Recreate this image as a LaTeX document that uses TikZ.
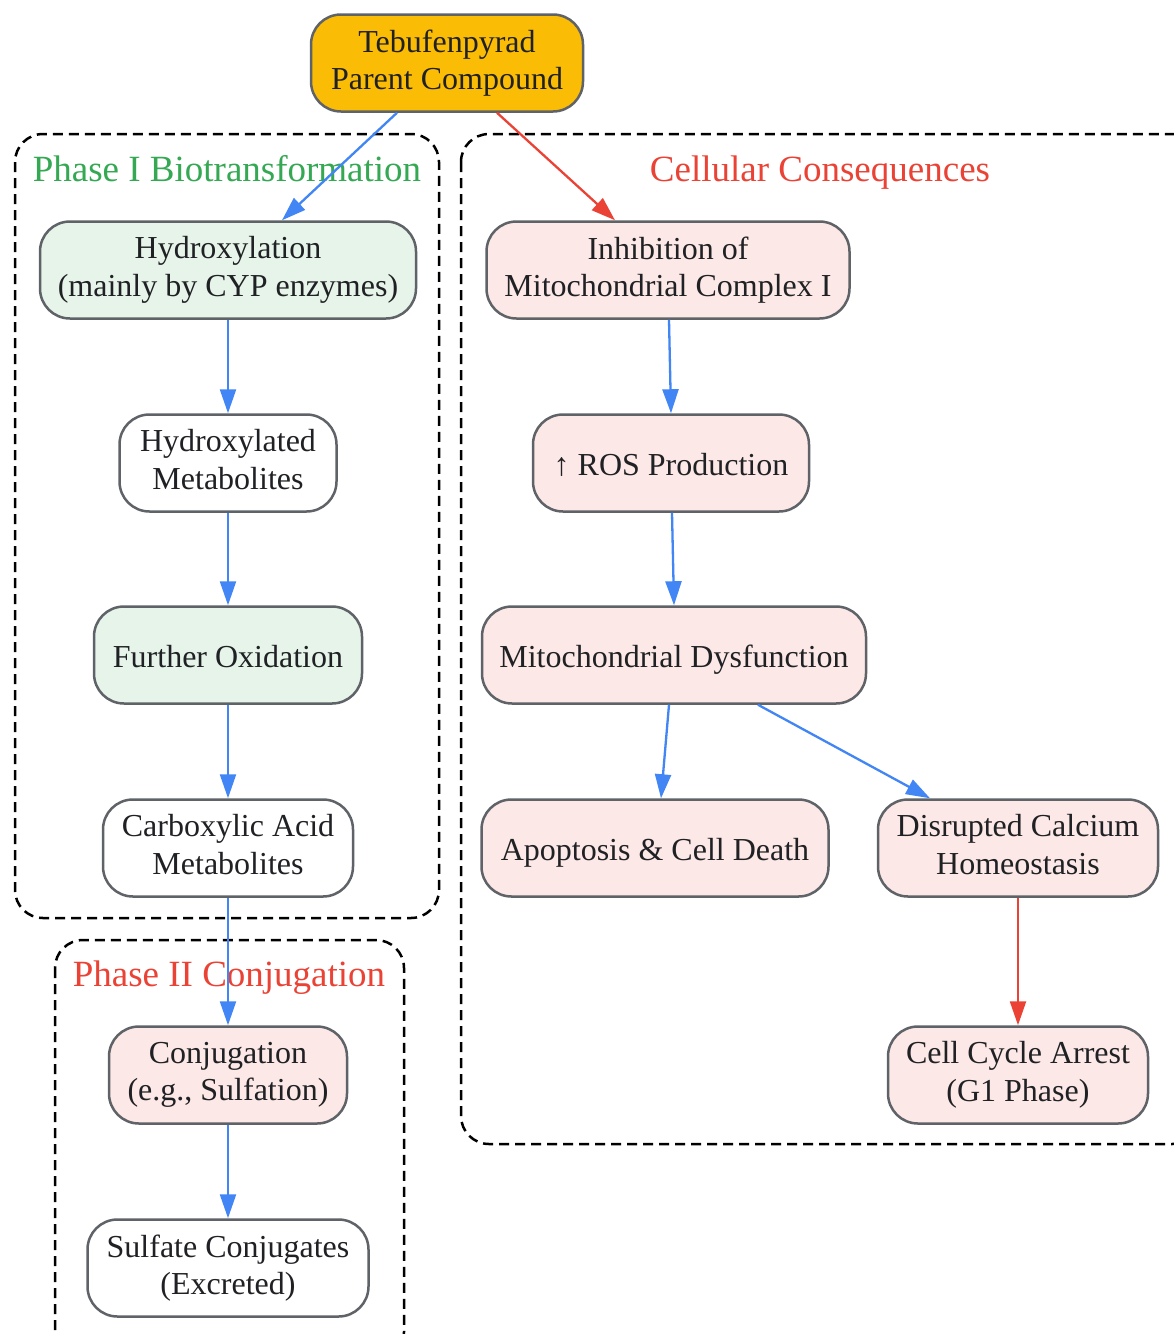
\documentclass[tikz,border=0pt]{standalone}
\usepackage{fontspec}
\setmainfont{Liberation Serif}
\usetikzlibrary{arrows.meta}
\definecolor{gblue}{HTML}{4285F4}
\definecolor{gred}{HTML}{EA4335}
\definecolor{ggreen}{HTML}{34A853}
\definecolor{gamber}{HTML}{FBBC05}
\definecolor{lgreen}{HTML}{E6F4EA}
\definecolor{lred}{HTML}{FCE8E6}
\definecolor{bordergray}{HTML}{5F6368}
\definecolor{textc}{HTML}{202124}
\begin{document}
\begin{tikzpicture}[x=1pt,y=-1pt,
  box/.style={draw=bordergray, line width=2.5pt, rounded corners=30pt, align=center,
    font=\fontsize{32}{37.3}\selectfont, text=textc, inner sep=0pt, minimum height=97pt,
    execute at begin node={\rule{0pt}{31pt}},
    execute at end node={\rule[-7pt]{0pt}{0pt}}},
  cluster/.style={draw=black, line width=2.5pt, dash pattern=on 10pt off 6pt, rounded corners=28pt},
  clabel/.style={font=\fontsize{37}{44}\selectfont, anchor=base},
  barrow/.style={draw=gblue, line width=2.3pt, -{Triangle[length=24pt,width=16pt]}},
  rarrow/.style={draw=gred, line width=2.3pt, -{Triangle[length=24pt,width=16pt]}}
]
\useasboundingbox (0,0) rectangle (1174,1334);
\fill[white] (0,0) rectangle (1174,1334);
% clusters
\draw[cluster] (15,134) rectangle (439,918);
\draw[cluster] (55,940) rectangle (404,1360);
\draw[cluster] (461,134) rectangle (1200,1144);
\node[clabel, text=ggreen] (l1) at (227,181) {Phase I Biotransformation};
\node[clabel, text=gred] (l2) at (229,986) {Phase II Conjugation};
\node[clabel, text=gred] (l3) at (820,181) {Cellular Consequences};
% nodes
\node[box, fill=gamber, minimum width=272pt] (teb) at (447,63) {Tebufenpyrad\\Parent Compound};
\node[box, fill=lgreen, minimum width=376pt] (hyd) at (228,270) {Hydroxylation\\(mainly by CYP enzymes)};
\node[box, fill=white, minimum width=217pt] (hmet) at (228,463) {Hydroxylated\\Metabolites};
\node[box, fill=lgreen, minimum width=268pt] (fox) at (228,655) {Further Oxidation};
\node[box, fill=white, minimum width=250pt] (cam) at (228,848) {Carboxylic Acid\\Metabolites};
\node[box, fill=lred, minimum width=238pt] (conj) at (228,1075) {Conjugation\\(e.g., Sulfation)};
\node[box, fill=white, minimum width=281pt] (sulf) at (228,1268) {Sulfate Conjugates\\(Excreted)};
\node[box, fill=lred, minimum width=363pt] (inh) at (668,270) {Inhibition of\\Mitochondrial Complex I};
\node[box, fill=lred, minimum width=276pt] (ros) at (671,463) {↑ ROS Production};
\node[box, fill=lred, minimum width=384pt] (mito) at (674,655) {Mitochondrial Dysfunction};
\node[box, fill=lred, minimum width=347pt] (apop) at (655,848) {Apoptosis \& Cell Death};
\node[box, fill=lred, minimum width=280pt] (calc) at (1018,848) {Disrupted Calcium\\Homeostasis};
\node[box, fill=lred, minimum width=260pt] (ccy) at (1018,1075) {Cell Cycle Arrest\\(G1 Phase)};
% edges
\draw[barrow] ([xshift=-50pt]teb.south) -- ([xshift=54pt]hyd.north);
\draw[rarrow] ([xshift=50pt]teb.south) -- ([xshift=-53pt]inh.north);
\draw[barrow] (hyd) -- (hmet);
\draw[barrow] (hmet) -- (fox);
\draw[barrow] (fox) -- (cam);
\draw[barrow] (cam) -- (conj);
\draw[barrow] (conj) -- (sulf);
\draw[barrow] ([xshift=1pt]inh.south) -- (ros.north);
\draw[barrow] ([xshift=1pt]ros.south) -- (mito.north);
\draw[barrow] ([xshift=-5pt]mito.south) -- ([xshift=6pt]apop.north);
\draw[barrow] ([xshift=84pt]mito.south) -- ([xshift=-88pt]calc.north);
\draw[rarrow] (calc) -- (ccy);
\end{tikzpicture}
\end{document}
